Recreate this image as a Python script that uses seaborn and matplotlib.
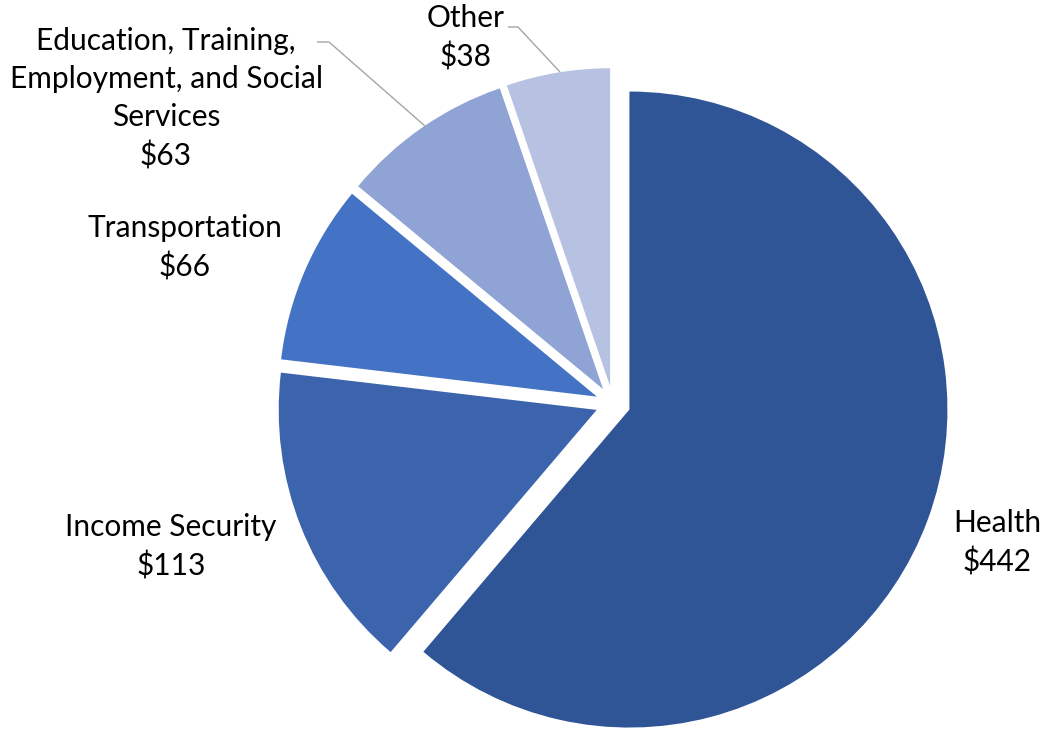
import matplotlib
matplotlib.use("Agg")
import matplotlib.pyplot as plt
import seaborn as sns

# Spending by category (billions of dollars)
categories = ["Health", "Income Security", "Transportation",
              "Education, Training,\nEmployment, and Social\nServices", "Other"]
values = [442, 113, 66, 63, 38]
colors = ["#2F5597", "#3C64AD", "#4472C4", "#8FA3D4", "#B7C2E2"]

sns.set_theme(style="white")
plt.rcParams["font.family"] = ["Lato", "DejaVu Sans"]

W, H = 1043, 729
fig = plt.figure(figsize=(W / 100, H / 100), dpi=100)
ax = fig.add_axes([0, 0, 1, 1])

# pie geometry in pixels
R = 318.0
CX, CY = 613.0, 403.5
EXPLODE = 17.5 / R


def px(x, y):
    """pixel position (origin top-left) to data units of the pie"""
    return (x - CX) / R, (CY - y) / R


ax.pie(values, colors=colors, startangle=90, counterclock=False,
       radius=1.0, explode=[EXPLODE] * len(values),
       wedgeprops=dict(linewidth=0))

ax.set_xlim(-CX / R, (W - CX) / R)
ax.set_ylim(-(H - CY) / R, CY / R)
ax.set_aspect("auto")
ax.axis("off")

# label positions (centre of text block, pixels)
label_pos = [(997, 543), (171, 547), (185, 248), (166, 99), (466, 38)]
for cat, val, (lx, ly) in zip(categories, values, label_pos):
    x, y = px(lx, ly)
    ax.text(x, y, f"{cat}\n${val}", ha="center", va="center",
            fontsize=21.5, color="black", linespacing=1.44)

# leader lines
leaders = [
    [(317, 42), (329, 42), (425, 126)],
    [(508, 27), (518, 27), (560, 72)],
]
for pts in leaders:
    xs, ys = zip(*[px(a, b) for a, b in pts])
    ax.plot(xs, ys, color="#A6A6A6", linewidth=1.0, solid_capstyle="butt")

fig.savefig("out.png", dpi=100, facecolor="white")
